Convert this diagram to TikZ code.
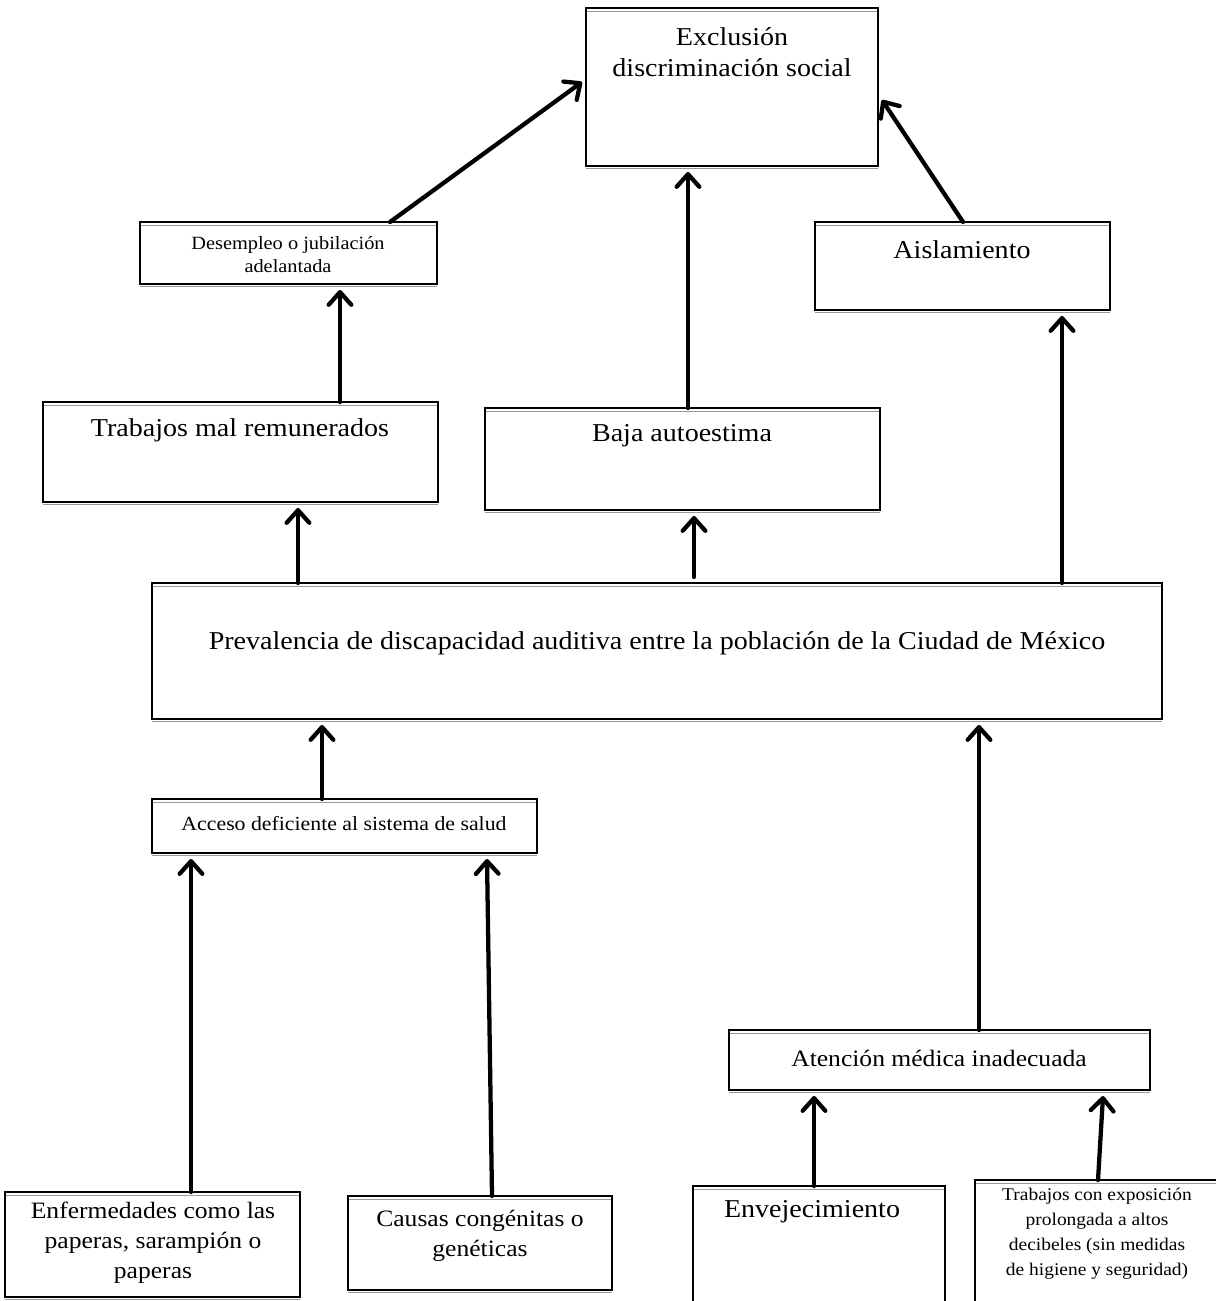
\documentclass[tikz,border=0pt]{standalone}
\usepackage{fontspec}
\setmainfont{Liberation Serif}[FakeStretch=1.09]
\usetikzlibrary{arrows.meta,fit,calc}
\newcommand\bx[5]{%
  \node[boxs,fit={(#2,#3) (#4,#5)}] (#1) {};
  \draw[gline] ([yshift=-2.5pt,xshift=0.8pt]#1.north west) -- ([yshift=-2.5pt,xshift=-0.8pt]#1.north east);
  \draw[gline] ([yshift=-2pt]#1.south west) -- ([yshift=-2pt]#1.south east);
}
\begin{document}
\begin{tikzpicture}[x=0.75pt,y=-0.75pt,
  boxs/.style={draw=black,line width=1.4pt,inner sep=0pt,outer sep=0pt,fill=white},
  gline/.style={draw=black!40,line width=1.1pt},
  arr/.style={line width=3.2pt,line cap=round,
    -{Straight Barb[length=9.5pt,width=17pt,line cap=round,line join=round]}},
  txt/.style={align=center,inner sep=0pt},
  big/.style={font=\fontsize{19.3}{23}\selectfont},
  mid/.style={font=\fontsize{17.6}{22.5}\selectfont},
]
\useasboundingbox (0,0) rectangle (1215,1301);
% boxes
\bx{exc}{586}{8}{878}{166}
\bx{des}{140}{222}{437}{284}
\bx{ais}{815}{222}{1110}{310}
\bx{tmr}{43}{402}{438}{502}
\bx{baj}{485}{408}{880}{510}
\bx{pre}{152}{583}{1162}{719}
\bx{acc}{152}{799}{537}{853}
\bx{ate}{729}{1030}{1150}{1090}
\bx{enf}{5}{1192}{300}{1297}
\bx{cau}{348}{1196}{612}{1290}
\bx{env}{693}{1186}{945}{1306}
\bx{tex}{975}{1180}{1218}{1306}
% texts
\node[txt,big] (exc-t) at (732,52) {Exclusión\\discriminación social};
\node[txt,font=\fontsize{14}{17.3}\selectfont] (des-t) at (288,255) {Desempleo o jubilación\\adelantada};
\node[txt,big] (ais-t) at (962,250) {Aislamiento};
\node[txt,big] (tmr-t) at (240,430) {Trabajos mal remunerados};
\node[txt,big] (baj-t) at (682,436) {Baja autoestima};
\node[txt,big] (pre-t) at (657,643) {Prevalencia de discapacidad auditiva entre la población de la Ciudad de México};
\node[txt,font=\fontsize{15}{18}\selectfont] (acc-t) at (344,824) {Acceso deficiente al sistema de salud};
\node[txt,mid] (ate-t) at (939,1058) {Atención médica inadecuada};
\node[txt,mid] (enf-t) at (153,1243) {Enfermedades como las\\paperas, sarampión o\\paperas};
\node[txt,mid] (cau-t) at (480,1236) {Causas congénitas o\\genéticas};
\node[txt,big] (env-t) at (812,1212) {Envejecimiento};
\node[txt,font=\fontsize{13.4}{18.8}\selectfont] (tex-t) at (1097,1234) {Trabajos con exposición\\prolongada a altos\\decibeles (sin medidas\\de higiene y seguridad)};
% x positions
\coordinate (x191) at (191,0);
\coordinate (x298) at (298,0);
\coordinate (x322) at (322,0);
\coordinate (x340) at (340,0);
\coordinate (x390) at (390,0);
\coordinate (x688) at (688,0);
\coordinate (x694) at (694,0);
\coordinate (x814) at (814,0);
\coordinate (x963) at (963,0);
\coordinate (x979) at (979,0);
\coordinate (x1062) at (1062,0);
% connectors
\draw[arr] (des.north -| x390) -- ($(exc.north west)+(-4,74)$);
\draw[arr] (baj.north -| x688) -- ($(exc.south -| x688)+(0,6)$);
\draw[arr] (ais.north -| x963) -- ($(exc.north east)+(4,92)$);
\draw[arr] (tmr.north -| x340) -- ($(des.south -| x340)+(0,6)$);
\draw[arr] (pre.north -| x298) -- ($(tmr.south -| x298)+(0,6)$);
\draw[arr] ($(pre.north -| x694)+(0,-6)$) -- ($(baj.south -| x694)+(0,6)$);
\draw[arr] (pre.north -| x1062) -- ($(ais.south -| x1062)+(0,6)$);
\draw[arr] (acc.north -| x322) -- ($(pre.south -| x322)+(0,6)$);
\draw[arr] (ate.north -| x979) -- ($(pre.south -| x979)+(0,6)$);
\draw[arr] (enf.north -| x191) -- ($(acc.south -| x191)+(0,6)$);
\draw[arr] ($(cau.north west)+(144,0)$) -- ($(acc.south west)+(335,6)$);
\draw[arr] (env.north -| x814) -- ($(ate.south -| x814)+(0,6)$);
\draw[arr] ($(tex.north west)+(123,0)$) -- ($(ate.south west)+(374,6)$);
\end{tikzpicture}
\end{document}
